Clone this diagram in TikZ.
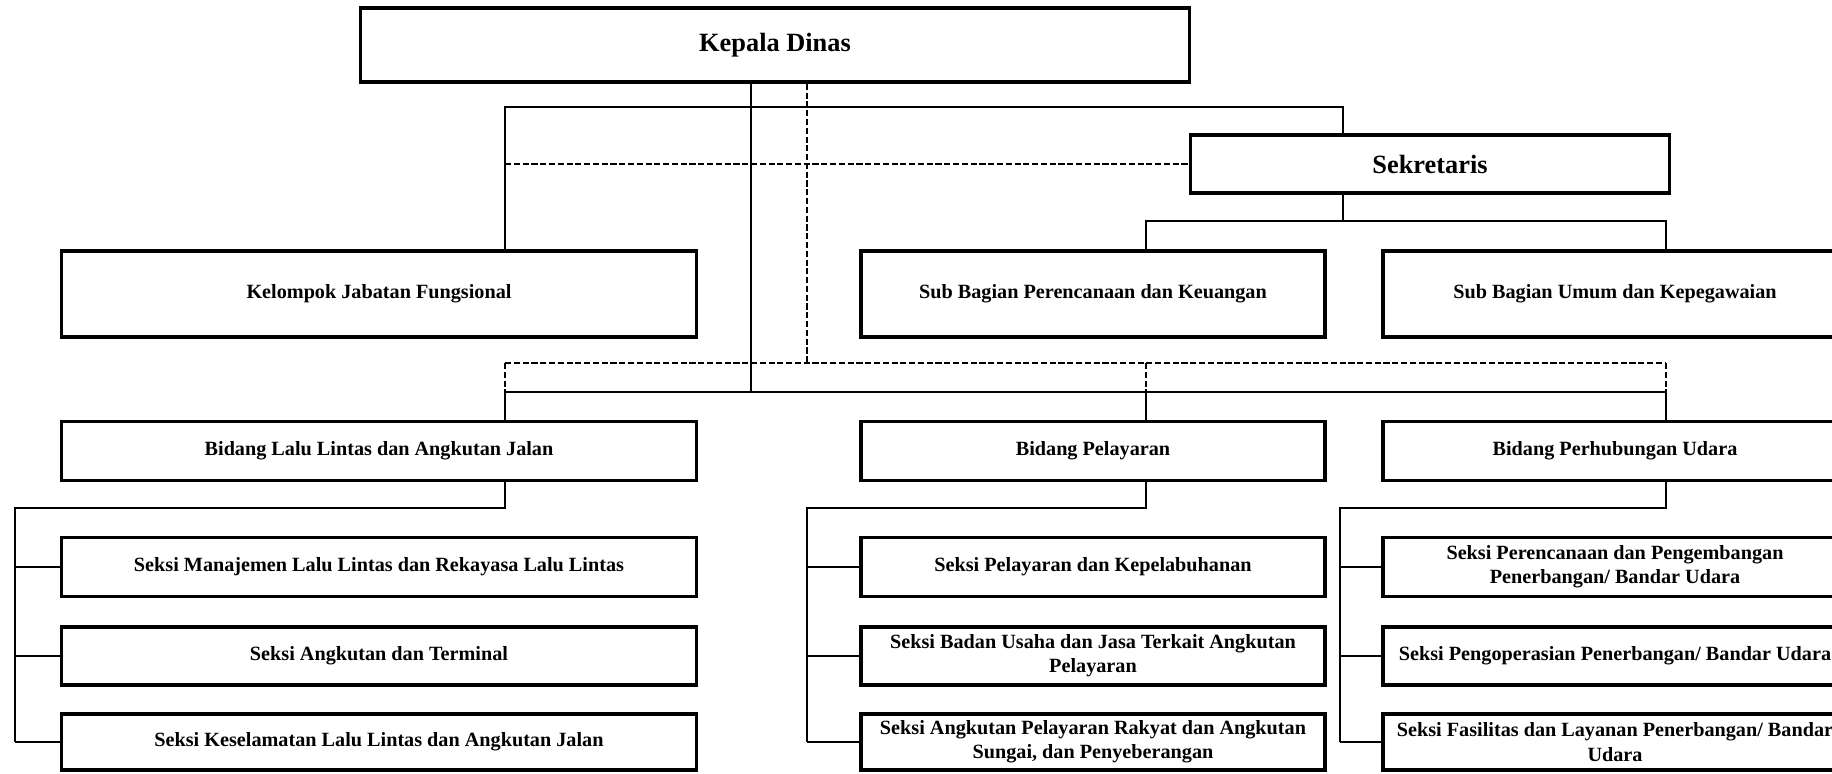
\documentclass[tikz,border=0pt]{standalone}
\usepackage{fontspec}
\setmainfont{Liberation Serif}

\tikzset{
  box/.style={draw=black, line width=2.1pt, rectangle, align=center, inner sep=2pt,
    font=\bfseries\fontsize{11.5}{13.8}\selectfont},
  bigbox/.style={box, font=\bfseries\fontsize{15}{18}\selectfont},
  wideA/.style={minimum width=12.7cm},
  wideB/.style={minimum width=9.28cm},
  link/.style={black, line width=0.9pt},
  dlink/.style={black, line width=0.9pt, dash pattern=on 3.5pt off 1.5pt}
}

\begin{document}
\begin{tikzpicture}[x=0.02cm, y=-0.02cm]
  \clip (0,0) rectangle (1832,774);
  \fill[white] (0,0) rectangle (1832,774);

  % top level
  \node[bigbox, minimum width=16.58cm, minimum height=1.48cm] (kadis) at (775,45) {Kepala Dinas};
  \node[bigbox, minimum width=9.58cm, minimum height=1.16cm] (sekre) at (1430,164) {Sekretaris};

  \node[box, wideA, minimum height=1.72cm] (jafung) at (379,294) {Kelompok Jabatan Fungsional};
  \node[box, wideB, minimum height=1.72cm] (subren) at (1093,294) {Sub Bagian Perencanaan dan Keuangan};
  \node[box, wideB, minimum height=1.72cm] (subum) at (1615,294) {Sub Bagian Umum dan Kepegawaian};

  % bidang
  \node[box, wideA, minimum height=1.18cm] (bidllaj) at (379,451) {Bidang Lalu Lintas dan Angkutan Jalan};
  \node[box, wideB, minimum height=1.18cm] (bidpel) at (1093,451) {Bidang Pelayaran};
  \node[box, wideB, minimum height=1.18cm] (bidud) at (1615,451) {Bidang Perhubungan Udara};

  % seksi
  \node[box, wideA, minimum height=1.18cm] (sA1) at (379,567) {Seksi Manajemen Lalu Lintas dan Rekayasa Lalu Lintas};
  \node[box, wideA, minimum height=1.16cm] (sA2) at (379,656) {Seksi Angkutan dan Terminal};
  \node[box, wideA, minimum height=1.12cm] (sA3) at (379,742) {Seksi Keselamatan Lalu Lintas dan Angkutan Jalan};

  \node[box, wideB, minimum height=1.18cm] (sB1) at (1093,567) {Seksi Pelayaran dan Kepelabuhanan};
  \node[box, wideB, minimum height=1.16cm] (sB2) at (1093,656) {Seksi Badan Usaha dan Jasa Terkait Angkutan\\Pelayaran};
  \node[box, wideB, minimum height=1.12cm] (sB3) at (1093,742) {Seksi Angkutan Pelayaran Rakyat dan Angkutan\\Sungai, dan Penyeberangan};

  \node[box, wideB, minimum height=1.18cm] (sC1) at (1615,567) {Seksi Perencanaan dan Pengembangan\\Penerbangan/ Bandar Udara};
  \node[box, wideB, minimum height=1.16cm] (sC2) at (1615,656) {Seksi Pengoperasian Penerbangan/ Bandar Udara};
  \node[box, wideB, minimum height=1.12cm] (sC3) at (1615,742) {Seksi Fasilitas dan Layanan Penerbangan/ Bandar\\Udara};

  % junctions
  \coordinate (tL) at (505,107);
  \coordinate (tR) at (1343,107);
  \coordinate (kS) at (751,392);
  \coordinate (kD) at (807,363);
  \coordinate (dA) at (505,392);
  \coordinate (dB) at (1146,392);
  \coordinate (dC) at (1666,392);
  \coordinate (sL) at (1146,221);
  \coordinate (sR) at (1666,221);
  \coordinate (bA) at (15,508);
  \coordinate (bB) at (807,508);
  \coordinate (bC) at (1340,508);

  % kepala dinas
  \draw[link] (tL |- jafung.north) -- (tL) -- (tR) -- (tR |- sekre.north);
  \draw[dlink] (tL |- sekre.west) -- (sekre.west);
  \draw[link] (kS |- kadis.south) -- (kS);
  \draw[dlink] (kD |- kadis.south) -- (kD);
  \draw[dlink] (dA |- kD) -- (dC |- kD);
  \foreach \d in {dA,dB,dC}
    \draw[dlink] (\d |- kD) -- (\d);
  \draw[link] (dA) -- (dC);
  \draw[link] (dA) -- (dA |- bidllaj.north);
  \draw[link] (dB) -- (dB |- bidpel.north);
  \draw[link] (dC) -- (dC |- bidud.north);

  % sekretaris
  \draw[link] (tR |- sekre.south) -- (tR |- sL);
  \draw[link] (sL |- subren.north) -- (sL) -- (sR) -- (sR |- subum.north);

  % seksi
  \draw[link] (dA |- bidllaj.south) -- (dA |- bA) -- (bA) -- (bA |- sA3.west);
  \draw[link] (dB |- bidpel.south) -- (dB |- bB) -- (bB) -- (bB |- sB3.west);
  \draw[link] (dC |- bidud.south) -- (dC |- bC) -- (bC) -- (bC |- sC3.west);
  \foreach \c in {A,B,C}
    \foreach \i in {1,2,3}
      \draw[link] (b\c |- s\c\i.west) -- (s\c\i.west);
\end{tikzpicture}
\end{document}
